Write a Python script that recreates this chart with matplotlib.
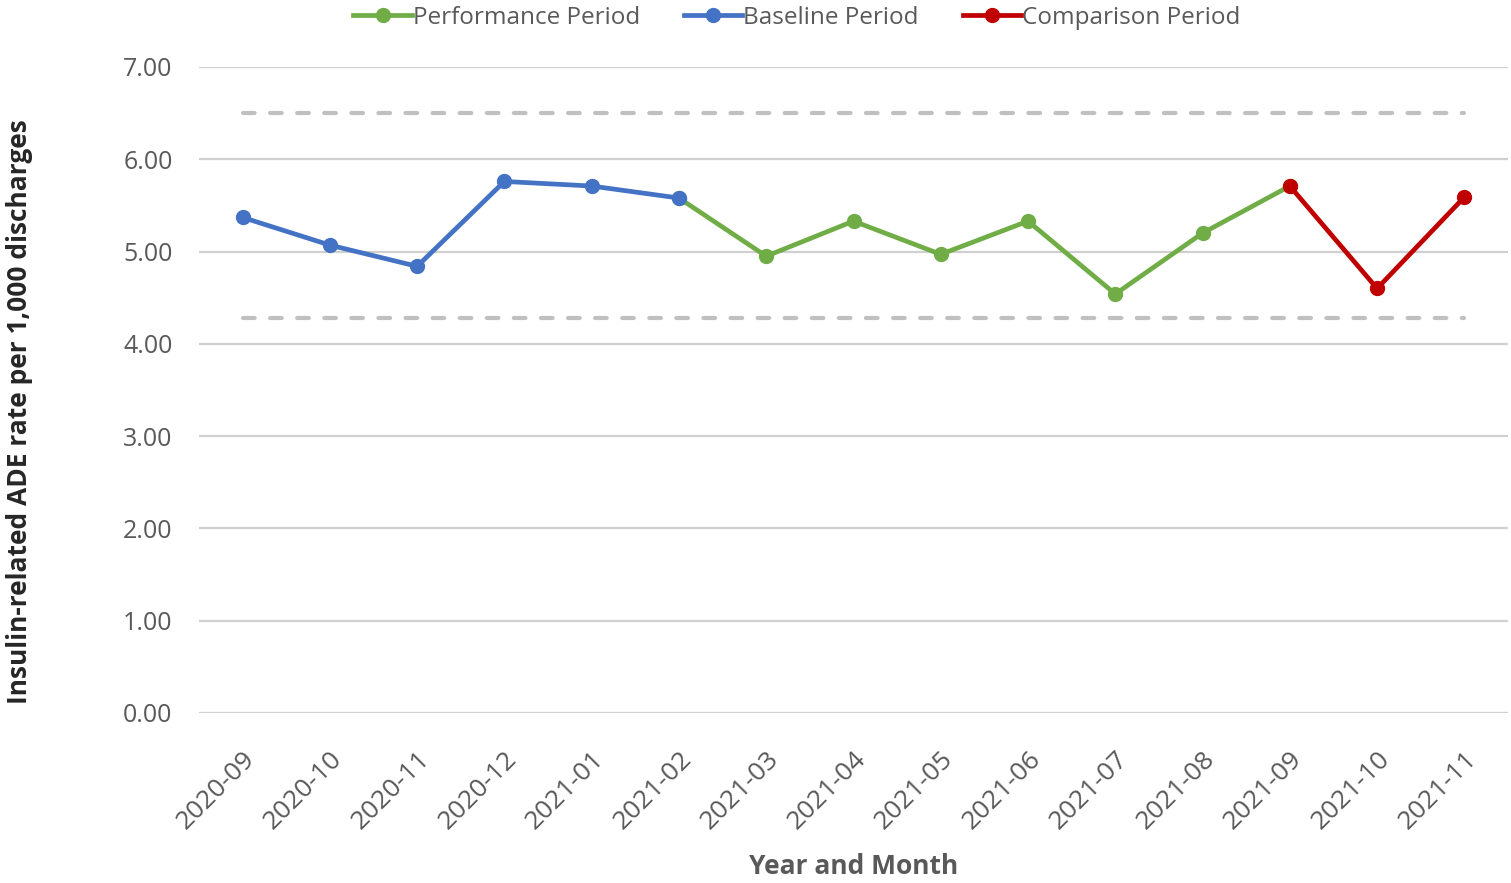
import numpy as np
import matplotlib.pyplot as plt

# ---------------- Data ------------------------
months = ["2020-09", "2020-10", "2020-11", "2020-12", "2021-01", "2021-02",
          "2021-03", "2021-04", "2021-05", "2021-06", "2021-07", "2021-08",
          "2021-09", "2021-10", "2021-11"]
nan = np.nan
baseline    = [5.37, 5.07, 4.84, 5.76, 5.71, 5.58, nan, nan, nan, nan, nan, nan, nan, nan, nan]
performance = [nan, nan, nan, nan, nan, 5.58, 4.95, 5.33, 4.97, 5.33, 4.54, 5.20, 5.71, nan, nan]
comparison  = [nan, nan, nan, nan, nan, nan, nan, nan, nan, nan, nan, nan, 5.71, 4.60, 5.59]
upper_limit = [6.50] * len(months)
lower_limit = [4.28] * len(months)

# ---------------- Plot ------------------------
plt.rcParams['font.family'] = ['Open Sans', 'DejaVu Sans']
TICK_C = "#595959"

fig = plt.figure(figsize=(15.11, 8.83), dpi=100)
ax = fig.add_axes([199/1511, 1 - 713/883, 1309/1511, 646/883])
x = np.arange(len(months))

for lim in (upper_limit, lower_limit):
    ax.plot(x, lim, color="#C0C0C0", lw=3, ls=(0, (2.8, 3.7)),
            dash_capstyle="round", zorder=2)

ax.plot(x, performance, color="#70AD47", lw=3.4, marker="o", ms=10, label="Performance Period", zorder=3)
ax.plot(x, baseline, color="#4472C4", lw=3.4, marker="o", ms=10, label="Baseline Period", zorder=3)
ax.plot(x, comparison, color="#C00000", lw=3.4, marker="o", ms=10, label="Comparison Period", zorder=4)

# ---------------- Styling ------------------------
ax.set_xlim(-0.5, len(months) - 0.5)
ax.set_ylim(0, 7)
ax.set_yticks(np.arange(0, 7.01, 1))
ax.set_yticklabels([f"{v:.2f}" for v in np.arange(0, 7.01, 1)], fontsize=18, color=TICK_C)
ax.set_xticks(x)
ax.set_xticklabels(months, rotation=45, ha="right", rotation_mode="anchor",
                   fontsize=19, color=TICK_C)
ax.tick_params(axis="both", length=0)
ax.tick_params(axis="y", pad=19)
ax.tick_params(axis="x", pad=24)

for s in ax.spines.values():
    s.set_visible(False)
ax.yaxis.grid(True, color="#D0D0D0", lw=1.6)
ax.set_axisbelow(True)

ax.set_ylabel("Insulin-related ADE rate per 1,000 discharges", fontsize=19,
              fontweight="bold", color="#262626")
ax.yaxis.set_label_coords(-0.127, 0.467)
ax.set_xlabel("Year and Month", fontsize=19, fontweight="bold", color=TICK_C)
ax.xaxis.set_label_coords(0.5, -0.217)

fig.legend(loc="upper center", bbox_to_anchor=(797/1511, 1.018), ncol=3, frameon=False,
           fontsize=17.5, handlelength=2.4, handletextpad=0.05, columnspacing=1.8,
           labelcolor=TICK_C)

fig.savefig("out.png", dpi=100, facecolor="white")
